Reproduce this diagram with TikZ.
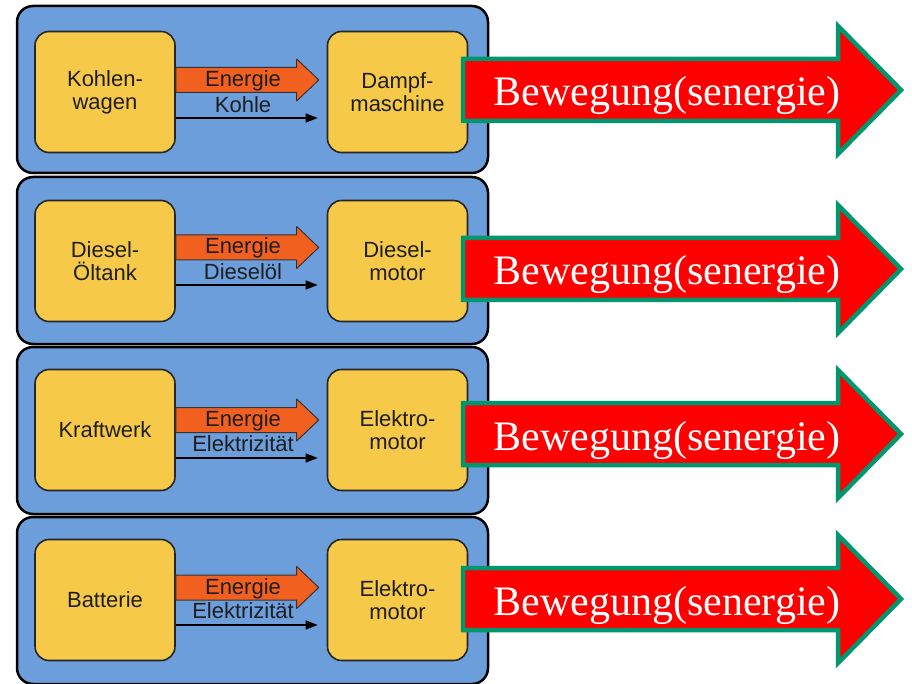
\documentclass[tikz,border=0pt]{standalone}
\usepackage{fontspec}
\setmainfont{Liberation Serif}
\setsansfont{Liberation Sans}
\usetikzlibrary{arrows.meta}
\definecolor{panelblue}{RGB}{108,158,220}
\definecolor{boxyellow}{RGB}{246,201,72}
\definecolor{energyorange}{RGB}{242,96,32}
\definecolor{arrowgreen}{RGB}{0,150,110}
\definecolor{txt}{RGB}{30,30,30}
\begin{document}
\begin{tikzpicture}[x=1pt,y=-1pt,
 panel/.style={draw=black,line width=2.5pt,fill=panelblue,rounded corners=16pt,minimum width=471pt,minimum height=167pt,inner sep=0pt},
 ybox/.style={draw=black!85,line width=1.6pt,fill=boxyellow,rounded corners=14pt,minimum width=140pt,minimum height=121pt,inner sep=0pt,align=center,font=\sffamily\fontsize{22}{23}\selectfont,text=txt},
 energy/.style={fill=energyorange,draw=black!80,line width=1pt,line join=round},
 lbl/.style={font=\sffamily\fontsize{22}{23}\selectfont,text=txt,inner sep=0pt,anchor=base},
 flow/.style={draw=black,line width=1.3pt,-{Triangle[length=12pt,width=9pt]},shorten >=9pt},
 bigarrow/.style={fill=red,draw=arrowgreen,line width=4.5pt,line join=miter},
 bigtext/.style={text=white,font=\fontsize{42}{42}\selectfont,inner sep=0pt,anchor=base}]
\fill[white] (0,0) rectangle (912,684);
\useasboundingbox (0,0) rectangle (912,684);
\foreach \i/\T/\bc/\ec/\lc/\th/\tip/\L/\R/\lab in {
 1/6/92/80/106/118/90/{Kohlen-\\wagen}/{Dampf-\\maschine}/Kohle,
 2/177/261/247.5/273/285/269/{Diesel-\\Öltank}/{Diesel-\\motor}/Dieselöl,
 3/347/430/420/445/458/434/Kraftwerk/{Elektro-\\motor}/Elektrizität,
 4/517/600/587.5/612/625/599/Batterie/{Elektro-\\motor}/Elektrizität}{
  \node[panel] (P\i) at (252.5,{\T+83.5}) {};
  \node[ybox] (L\i) at (105,\bc) {\L};
  \node[ybox] (R\i) at (397.5,\bc) {\R};
  \path (L\i.east |- 0,\ec) coordinate (s\i);
  \path (R\i.west |- 0,\ec) coordinate (e\i);
  \filldraw[energy] ([yshift=12.5pt]s\i) -- ([xshift=-30pt,yshift=12.5pt]e\i)
     -- ([xshift=-30pt,yshift=21pt]e\i) -- ([xshift=-8pt]e\i)
     -- ([xshift=-30pt,yshift=-21pt]e\i) -- ([xshift=-30pt,yshift=-12.5pt]e\i)
     -- ([yshift=-12.5pt]s\i) -- cycle;
  \node[lbl] (E\i) at (243,{\ec+6.5}) {Energie};
  \node[lbl] (K\i) at (243,{\lc+6.5}) {\lab};
  \draw[flow] (L\i.east |- 0,\th) -- (R\i.west |- 0,\th);
  \draw[bigarrow] (463,{\tip-31}) -- (838,{\tip-31}) -- (838,{\tip-64}) -- (901,\tip)
     -- (838,{\tip+64}) -- (838,{\tip+31}) -- (463,{\tip+31}) -- cycle;
  \node[bigtext] (B\i) at (667,{\tip+16}) {Bewegung(senergie)};
}
\end{tikzpicture}
\end{document}
